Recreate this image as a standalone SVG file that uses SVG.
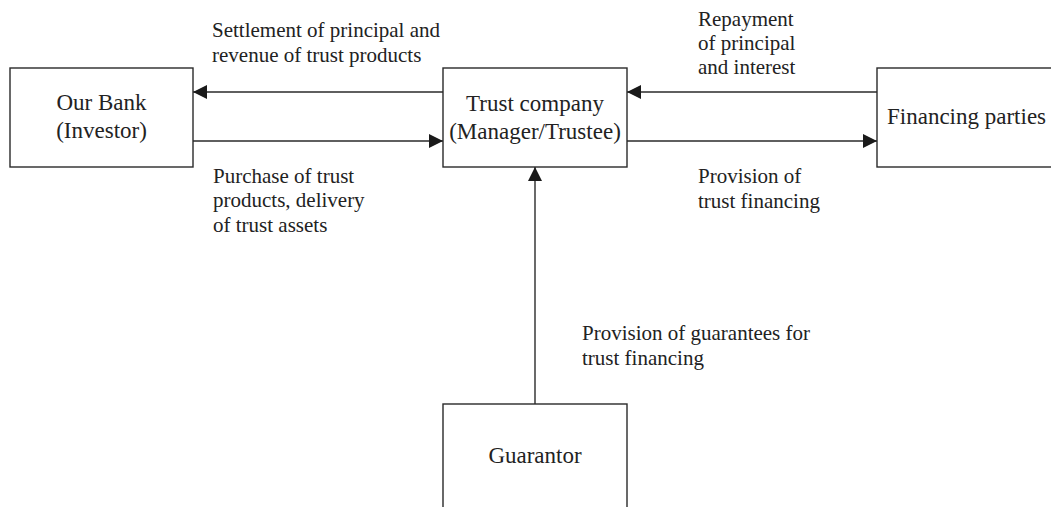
<svg xmlns="http://www.w3.org/2000/svg" width="1051" height="507" viewBox="0 0 1051 507">
  <style>
    .box { fill: #ffffff; stroke: #2a2a2a; stroke-width: 1.4; }
    .node { font-family: "Liberation Serif", "Times New Roman", serif; font-size: 23px; fill: #222222; }
    .lbl { font-family: "Liberation Serif", "Times New Roman", serif; font-size: 21px; fill: #222222; }
    .edge { stroke: #2a2a2a; stroke-width: 1.4; fill: none; marker-end: url(#head); }
  </style>
  <defs>
    <marker id="head" viewBox="0 0 14 14" refX="14" refY="7" markerWidth="14" markerHeight="14" markerUnits="userSpaceOnUse" orient="auto">
      <path d="M0,0 L14,7 L0,14 Z" fill="#1a1a1a"/>
    </marker>
  </defs>
  <rect width="1051" height="507" fill="#ffffff"/>

  <g id="connectors">
    <line class="edge" x1="443" y1="92" x2="193" y2="92"/>
    <line class="edge" x1="193" y1="141" x2="443" y2="141"/>
    <line class="edge" x1="877" y1="92" x2="627" y2="92"/>
    <line class="edge" x1="627" y1="141" x2="877" y2="141"/>
    <line class="edge" x1="535" y1="404" x2="535" y2="167"/>
  </g>

  <g id="our-bank">
    <rect class="box" x="10" y="68" width="183" height="99"/>
    <text class="node" x="101.5" y="110" text-anchor="middle">Our Bank</text>
    <text class="node" x="101.5" y="138" text-anchor="middle">(Investor)</text>
  </g>

  <g id="trust-company">
    <rect class="box" x="443" y="68" width="184" height="99"/>
    <text class="node" x="535" y="111" text-anchor="middle">Trust company</text>
    <text class="node" x="535" y="139" text-anchor="middle">(Manager/Trustee)</text>
  </g>

  <g id="financing-parties">
    <rect class="box" x="877" y="68" width="190" height="99"/>
    <text class="node" x="887" y="124">Financing parties</text>
  </g>

  <g id="guarantor">
    <rect class="box" x="443" y="404" width="184" height="120"/>
    <text class="node" x="535" y="463" text-anchor="middle">Guarantor</text>
  </g>

  <g id="labels">
    <text class="lbl" x="212" y="37">Settlement of principal and</text>
    <text class="lbl" x="212" y="62">revenue of trust products</text>

    <text class="lbl" x="213" y="183">Purchase of trust</text>
    <text class="lbl" x="213" y="207">products, delivery</text>
    <text class="lbl" x="213" y="232">of trust assets</text>

    <text class="lbl" x="698" y="26">Repayment</text>
    <text class="lbl" x="698" y="50">of principal</text>
    <text class="lbl" x="698" y="74">and interest</text>

    <text class="lbl" x="698" y="183">Provision of</text>
    <text class="lbl" x="698" y="208">trust financing</text>

    <text class="lbl" x="582" y="340">Provision of guarantees for</text>
    <text class="lbl" x="582" y="365">trust financing</text>
  </g>
</svg>
